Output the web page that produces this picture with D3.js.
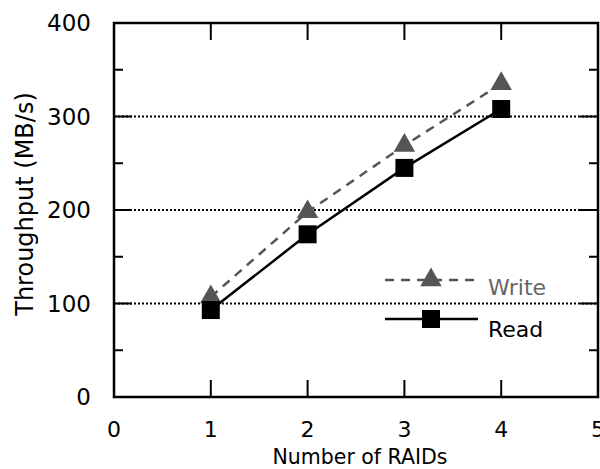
<!DOCTYPE html>
<html>
<head>
<meta charset="utf-8">
<script src="https://cdn.jsdelivr.net/npm/d3@7"></script>
<style>
  body { margin: 0; background: #fff; }
  text { font-family: "DejaVu Sans", sans-serif; }
</style>
</head>
<body>
<div id="chart"></div>
<script>
// valores
const raids = [1, 2, 3, 4];
const writeMBs = [107, 198, 269, 335];
const readMBs = [93, 174, 245, 308];
const xTicks = [0, 1, 2, 3, 4, 5];
const yTicks = [0, 100, 200, 300, 400];
const yMinor = [50, 150, 250, 350];

const width = 600, height = 469;
const margin = { left: 114, right: 2, top: 23, bottom: 72 };
const innerW = width - margin.left - margin.right;
const innerH = height - margin.top - margin.bottom;

const svg = d3.select('#chart').append('svg')
    .attr('width', width)
    .attr('height', height);

const x = d3.scaleLinear().domain([0, 5]).range([margin.left, margin.left + innerW]);
const y = d3.scaleLinear().domain([0, 400]).range([margin.top + innerH, margin.top]);

// linhas de grade pontilhadas
svg.append('g')
    .selectAll('line')
    .data([100, 200, 300])
    .join('line')
    .attr('x1', x(0)).attr('x2', x(5))
    .attr('y1', d => y(d)).attr('y2', d => y(d))
    .attr('stroke', '#000')
    .attr('stroke-width', 2)
    .attr('stroke-dasharray', '2,2');

// ticks do eixo y (esquerda e direita, para dentro)
const yAll = yTicks.concat(yMinor).filter(d => d > 0 && d < 400);
svg.append('g').selectAll('line')
    .data(yAll)
    .join('line')
    .attr('x1', x(0)).attr('x2', d => x(0) + (d % 100 === 0 ? 18 : 9))
    .attr('y1', d => y(d)).attr('y2', d => y(d))
    .attr('stroke', '#000').attr('stroke-width', 2);
svg.append('g').selectAll('line')
    .data(yAll)
    .join('line')
    .attr('x1', x(5)).attr('x2', d => x(5) - (d % 100 === 0 ? 18 : 9))
    .attr('y1', d => y(d)).attr('y2', d => y(d))
    .attr('stroke', '#000').attr('stroke-width', 2);

// ticks do eixo x (baixo e cima)
svg.append('g').selectAll('line')
    .data(raids)
    .join('line')
    .attr('x1', d => x(d)).attr('x2', d => x(d))
    .attr('y1', y(0)).attr('y2', y(0) - 17)
    .attr('stroke', '#000').attr('stroke-width', 2);
svg.append('g').selectAll('line')
    .data(raids)
    .join('line')
    .attr('x1', d => x(d)).attr('x2', d => x(d))
    .attr('y1', y(400)).attr('y2', y(400) + 17)
    .attr('stroke', '#000').attr('stroke-width', 2);

// moldura
svg.append('rect')
    .attr('x', x(0)).attr('y', y(400))
    .attr('width', x(5) - x(0)).attr('height', y(0) - y(400))
    .attr('fill', 'none').attr('stroke', '#000').attr('stroke-width', 2.5);

// rótulos dos ticks
svg.append('g').selectAll('text')
    .data(yTicks)
    .join('text')
    .attr('x', 91).attr('y', d => y(d) + 8)
    .attr('text-anchor', 'end')
    .style('font-size', '23px')
    .text(d => d);
svg.append('g').selectAll('text')
    .data(xTicks)
    .join('text')
    .attr('x', d => x(d)).attr('y', 437)
    .attr('text-anchor', 'middle')
    .style('font-size', '22px')
    .text(d => d);

// títulos dos eixos
svg.append('text')
    .attr('x', 360).attr('y', 464)
    .attr('text-anchor', 'middle')
    .style('font-size', '20.5px')
    .text('Number of RAIDs');
svg.append('text')
    .attr('transform', 'translate(33,204) rotate(-90)')
    .attr('text-anchor', 'middle')
    .style('font-size', '24px')
    .text('Throughput (MB/s)');

const line = d3.line().x(d => x(d[0])).y(d => y(d[1]));
const writePts = raids.map((r, i) => [r, writeMBs[i]]);
const readPts = raids.map((r, i) => [r, readMBs[i]]);

const tri = d3.symbol().type(d3.symbolTriangle).size(200);
const sq = d3.symbol().type(d3.symbolSquare).size(324);

// série Write (tracejada, cinza)
svg.append('path')
    .attr('d', line(writePts))
    .attr('fill', 'none')
    .attr('stroke', '#555')
    .attr('stroke-width', 2.5)
    .attr('stroke-dasharray', '9,7');
svg.append('g').selectAll('path')
    .data(writePts)
    .join('path')
    .attr('d', tri)
    .attr('transform', d => `translate(${x(d[0])},${y(d[1])})`)
    .attr('fill', '#555');

// série Read (sólida, preta)
svg.append('path')
    .attr('d', line(readPts))
    .attr('fill', 'none')
    .attr('stroke', '#000')
    .attr('stroke-width', 2.5);
svg.append('g').selectAll('path')
    .data(readPts)
    .join('path')
    .attr('d', sq)
    .attr('transform', d => `translate(${x(d[0])},${y(d[1])})`)
    .attr('fill', '#000');

// legenda
const legend = svg.append('g');
legend.append('line')
    .attr('x1', 385).attr('x2', 478).attr('y1', 280).attr('y2', 280)
    .attr('stroke', '#555').attr('stroke-width', 2.5).attr('stroke-dasharray', '9,7');
legend.append('path').attr('d', tri).attr('transform', 'translate(431,280)').attr('fill', '#555');
legend.append('text').attr('x', 488).attr('y', 295).style('font-size', '22px').attr('fill', '#666').text('Write');
legend.append('line')
    .attr('x1', 385).attr('x2', 478).attr('y1', 319).attr('y2', 319)
    .attr('stroke', '#000').attr('stroke-width', 2.5);
legend.append('path').attr('d', sq).attr('transform', 'translate(431,319)').attr('fill', '#000');
legend.append('text').attr('x', 488).attr('y', 337).style('font-size', '22px').attr('fill', '#000').text('Read');
</script>
</body>
</html>
